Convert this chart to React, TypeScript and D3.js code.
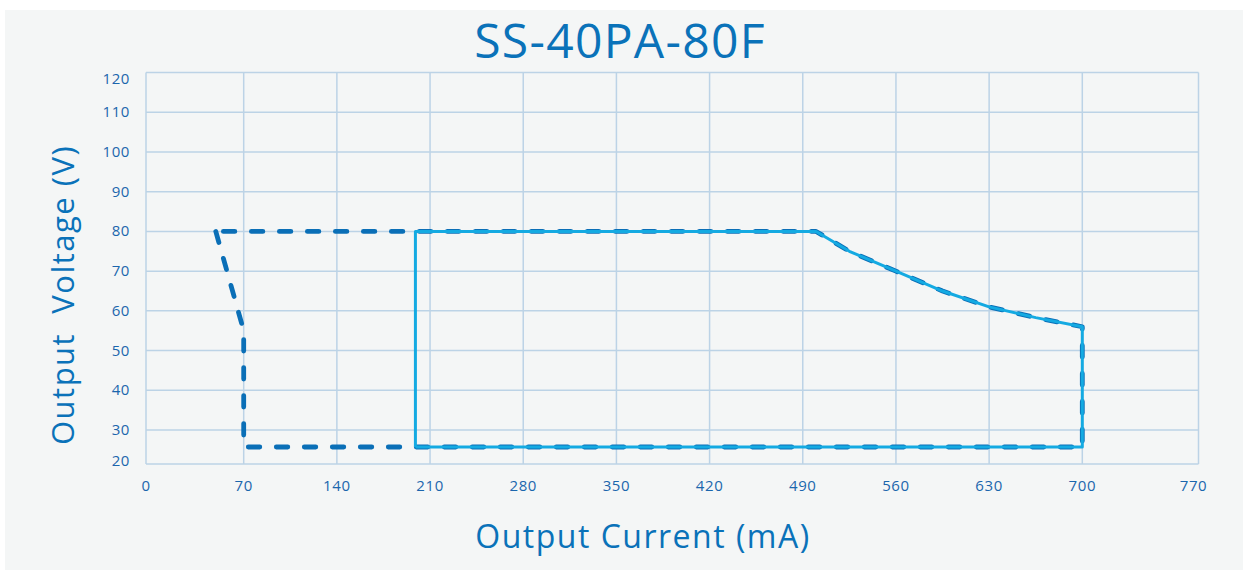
import React, { useEffect, useRef } from 'react';
import * as d3 from 'd3';

// x ticks (mA) and y ticks (V)
const xTicks = [0, 70, 140, 210, 280, 350, 420, 490, 560, 630, 700, 770];
const yTicks = [20, 30, 40, 50, 60, 70, 80, 90, 100, 110, 120];

// dashed outline: [current mA, voltage V]
const dashedPoints: [number, number][] = [
  [50, 80], [70, 55], [70, 25], [700, 25], [700, 56],
  [665, 58.3], [630, 61], [595, 65], [560, 70], [525, 75], [500, 80], [50, 80],
];

// solid outline
const solidPoints: [number, number][] = [
  [199, 25], [199, 80], [500, 80], [525, 75], [560, 70], [595, 65],
  [630, 61], [665, 58.3], [700, 56], [700, 25], [199, 25],
];

const App = () => {
  const svgRef = useRef<SVGSVGElement | null>(null);

  useEffect(() => {
    const width = 1248;
    const height = 570;
    const blue = '#0a72b9';
    const grid = '#bcd3e6';

    const svg = d3.select(svgRef.current)
      .attr('width', width)
      .attr('height', height);

    svg.selectAll('*').remove();

    // background panel
    svg.append('rect')
      .attr('x', 5).attr('y', 10)
      .attr('width', 1238).attr('height', 560)
      .attr('fill', '#f4f6f6');

    // scales: end ticks are squeezed in the original, so use piecewise domains
    const x = d3.scaleLinear()
      .domain([0, 70, 700, 770])
      .range([146, 243.7, 1082.3, 1198.5]);

    const y = d3.scaleLinear()
      .domain([20, 30, 120])
      .range([464, 430, 72.6]);

    const g = svg.append('g');

    // grid lines
    g.selectAll('.vgrid')
      .data(xTicks)
      .enter()
      .append('line')
      .attr('x1', d => x(d)).attr('x2', d => x(d))
      .attr('y1', y(120)).attr('y2', y(20))
      .attr('stroke', grid)
      .attr('stroke-width', 1.5);

    g.selectAll('.hgrid')
      .data(yTicks)
      .enter()
      .append('line')
      .attr('x1', x(0)).attr('x2', x(770))
      .attr('y1', d => y(d)).attr('y2', d => y(d))
      .attr('stroke', grid)
      .attr('stroke-width', 1.5);

    // tick labels
    g.selectAll('.xlab')
      .data(xTicks)
      .enter()
      .append('text')
      .attr('x', d => x(d) + (d === 770 ? -5 : 0))
      .attr('y', 491)
      .attr('text-anchor', 'middle')
      .attr('font-family', 'Open Sans, sans-serif')
      .attr('font-size', 15)
      .attr('letter-spacing', 0.6)
      .attr('fill', '#1b66ad')
      .text(d => d);

    g.selectAll('.ylab')
      .data(yTicks)
      .enter()
      .append('text')
      .attr('x', 130)
      .attr('y', d => y(d) + 5 + (d === 120 ? 6 : d === 20 ? -3 : 0))
      .attr('text-anchor', 'end')
      .attr('font-family', 'Open Sans, sans-serif')
      .attr('font-size', 15)
      .attr('letter-spacing', 0.6)
      .attr('fill', '#1b66ad')
      .text(d => d);

    const line = d3.line<[number, number]>()
      .x(d => x(d[0]))
      .y(d => y(d[1]));

    // dashed series
    g.append('path')
      .attr('d', line(dashedPoints))
      .attr('fill', 'none')
      .attr('stroke', '#0a6fb7')
      .attr('stroke-width', 4.8)
      .attr('stroke-dasharray', '11.5,16.5')
      .attr('stroke-linecap', 'round')
      .attr('stroke-linejoin', 'round');

    // solid series
    g.append('path')
      .attr('d', line(solidPoints))
      .attr('fill', 'none')
      .attr('stroke', '#14aae2')
      .attr('stroke-width', 3)
      .attr('stroke-linejoin', 'round');

    // title
    svg.append('text')
      .attr('x', 620)
      .attr('y', 58)
      .attr('text-anchor', 'middle')
      .attr('font-family', 'Open Sans, sans-serif')
      .attr('font-size', 48)
      .attr('letter-spacing', 1.3)
      .attr('fill', blue)
      .text('SS-40PA-80F');

    // x axis title
    svg.append('text')
      .attr('x', 643)
      .attr('y', 548)
      .attr('text-anchor', 'middle')
      .attr('font-family', 'Open Sans, sans-serif')
      .attr('font-size', 32)
      .attr('letter-spacing', 1.5)
      .attr('fill', blue)
      .text('Output Current (mA)');

    // y axis title
    svg.append('text')
      .attr('transform', 'translate(74,295) rotate(-90)')
      .attr('text-anchor', 'middle')
      .attr('font-family', 'Open Sans, sans-serif')
      .attr('font-size', 31)
      .attr('letter-spacing', 1.5)
      .attr('fill', blue)
      .attr('xml:space', 'preserve')
      .style('white-space', 'pre')
      .text('Output  Voltage (V)');
  }, []);

  return (
    <svg ref={svgRef} width={1248} height={570} style={{ position: 'absolute', left: 0, top: 0 }}></svg>
  );
};

export default App;
